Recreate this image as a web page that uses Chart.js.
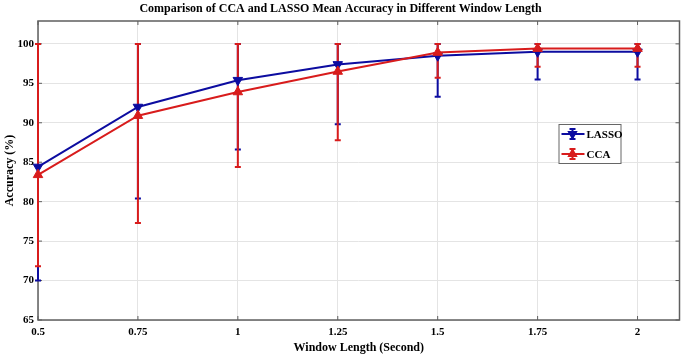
<!DOCTYPE html>
<html lang="en">
<head>
  <meta charset="UTF-8" />
  <title>CCA vs LASSO Accuracy</title>
  <script src="https://cdn.jsdelivr.net/npm/chart.js@4"></script>
  <style>
    html, body { margin: 0; padding: 0; background: #fff; }
    #wrap { width: 686px; height: 356px; }
  </style>
</head>
<body>
  <div id="wrap"><canvas id="accChart" width="686" height="356"></canvas></div>

  <script>
    const windowLengths = [0.5, 0.75, 1, 1.25, 1.5, 1.75, 2];
    const lassoMean  = [84.4, 92.0, 95.4, 97.4, 98.5, 99.0, 99.0];
    const lassoLow   = [70.0, 80.4, 86.6, 89.8, 93.3, 95.5, 95.5];
    const lassoHigh  = [100, 100, 100, 100, 100, 100, 100];
    const ccaMean    = [83.4, 90.9, 93.9, 96.5, 98.9, 99.4, 99.4];
    const ccaLow     = [71.8, 77.3, 84.4, 87.8, 95.7, 97.1, 97.1];
    const ccaHigh    = [100, 100, 100, 100, 100, 100, 100];
    const yTicks = [65, 70, 75, 80, 85, 90, 95, 100];

    const BLUE = '#0c0ca0';
    const RED = '#d81c1c';
    const FONT = "'Liberation Serif', 'Times New Roman', serif";

    const errorBars = [
      { color: BLUE, low: lassoLow, high: lassoHigh },
      { color: RED, low: ccaLow, high: ccaHigh }
    ];

    // frame + inward ticks, like a matlab box
    const framePlugin = {
      id: 'frame',
      beforeDatasetsDraw(chart) {
        const { ctx, chartArea: a, scales } = chart;
        ctx.save();
        ctx.strokeStyle = '#5f5f5f';
        ctx.lineWidth = 1.5;
        ctx.strokeRect(a.left, a.top, a.right - a.left, a.bottom - a.top);
        ctx.lineWidth = 1;
        ctx.beginPath();
        windowLengths.forEach(v => {
          const x = scales.x.getPixelForValue(v);
          ctx.moveTo(x, a.bottom); ctx.lineTo(x, a.bottom - 4);
          ctx.moveTo(x, a.top); ctx.lineTo(x, a.top + 4);
        });
        yTicks.forEach(v => {
          const y = scales.y.getPixelForValue(v);
          ctx.moveTo(a.left, y); ctx.lineTo(a.left + 4, y);
          ctx.moveTo(a.right, y); ctx.lineTo(a.right - 4, y);
        });
        ctx.stroke();

        // error bars
        errorBars.forEach(eb => {
          ctx.strokeStyle = eb.color;
          ctx.lineWidth = 2;
          windowLengths.forEach((v, i) => {
            const x = scales.x.getPixelForValue(v);
            const y1 = scales.y.getPixelForValue(eb.low[i]);
            const y2 = scales.y.getPixelForValue(eb.high[i]);
            ctx.beginPath();
            ctx.moveTo(x, y1); ctx.lineTo(x, y2);
            ctx.moveTo(x - 3, y1); ctx.lineTo(x + 3, y1);
            ctx.moveTo(x - 3, y2); ctx.lineTo(x + 3, y2);
            ctx.stroke();
          });
        });
        ctx.restore();
      }
    };

    // boxed legend inside the plot
    const legendBox = {
      id: 'legendBox',
      afterDraw(chart) {
        const { ctx, chartArea: a } = chart;
        const left = a.right - 121, top = a.top + 103, w = 62, h = 39;
        ctx.save();
        ctx.fillStyle = '#fff';
        ctx.fillRect(left, top, w, h);
        ctx.strokeStyle = '#666';
        ctx.lineWidth = 1;
        ctx.strokeRect(left + 0.5, top + 0.5, w, h);
        const items = [
          { label: 'LASSO', color: BLUE, rot: 180, y: top + 10 },
          { label: 'CCA', color: RED, rot: 0, y: top + 30 }
        ];
        items.forEach(it => {
          const cx = left + 14;
          ctx.strokeStyle = it.color;
          ctx.fillStyle = it.color;
          ctx.lineWidth = 2;
          ctx.beginPath();
          ctx.moveTo(left + 3, it.y); ctx.lineTo(left + 26, it.y);
          ctx.moveTo(cx, it.y - 5); ctx.lineTo(cx, it.y + 5);
          ctx.moveTo(cx - 3, it.y - 5); ctx.lineTo(cx + 3, it.y - 5);
          ctx.moveTo(cx - 3, it.y + 5); ctx.lineTo(cx + 3, it.y + 5);
          ctx.stroke();
          Chart.helpers.drawPoint(ctx, { pointStyle: 'triangle', radius: 4, rotation: it.rot, borderWidth: 1 }, cx, it.y);
          ctx.fillStyle = '#000';
          ctx.font = 'bold 11px ' + FONT;
          ctx.textBaseline = 'middle';
          ctx.fillText(it.label, left + 28, it.y + 1);
        });
        ctx.restore();
      }
    };

    const ctx = document.getElementById('accChart').getContext('2d');
    new Chart(ctx, {
      type: 'line',
      data: {
        datasets: [
          {
            label: 'LASSO',
            data: windowLengths.map((x, i) => ({ x, y: lassoMean[i] })),
            borderColor: BLUE,
            backgroundColor: BLUE,
            borderWidth: 2,
            pointStyle: 'triangle',
            rotation: 180,
            pointRadius: 5.5,
            pointBorderWidth: 1,
            order: 2,
            clip: false
          },
          {
            label: 'CCA',
            data: windowLengths.map((x, i) => ({ x, y: ccaMean[i] })),
            borderColor: RED,
            backgroundColor: RED,
            borderWidth: 2,
            pointStyle: 'triangle',
            pointRadius: 5.5,
            pointBorderWidth: 1,
            order: 1,
            clip: false
          }
        ]
      },
      options: {
        responsive: false,
        animation: false,
        layout: { padding: { left: 0, right: 5, top: 0, bottom: 0 } },
        plugins: {
          legend: { display: false },
          tooltip: { enabled: false },
          title: {
            display: true,
            text: 'Comparison of CCA and LASSO Mean Accuracy in Different Window Length',
            color: '#000',
            font: { family: FONT, size: 12, weight: 'bold', lineHeight: 1.2 },
            padding: { top: 2, bottom: 4.6 }
          }
        },
        scales: {
          x: {
            type: 'linear',
            min: 0.5,
            max: 2.105,
            afterBuildTicks: s => { s.ticks = windowLengths.map(v => ({ value: v })); },
            afterFit: s => { s.height = 36; },
            ticks: {
              autoSkip: false,
              maxRotation: 0,
              padding: 6,
              color: '#000',
              font: { family: FONT, size: 11, weight: 'bold' },
              callback: v => String(v)
            },
            grid: { color: '#e4e4e4', drawTicks: false },
            border: { display: false },
            title: {
              display: true,
              text: 'Window Length (Second)',
              color: '#000',
              font: { family: FONT, size: 12, weight: 'bold' },
              padding: { top: 0, bottom: 1 }
            }
          },
          y: {
            min: 65,
            max: 102.9,
            afterBuildTicks: s => { s.ticks = yTicks.map(v => ({ value: v })); },
            afterFit: s => { s.width = 38; },
            ticks: {
              padding: 4,
              color: '#000',
              font: { family: FONT, size: 11, weight: 'bold' }
            },
            grid: { color: '#e4e4e4', drawTicks: false },
            border: { display: false },
            title: {
              display: true,
              text: 'Accuracy (%)',
              color: '#000',
              font: { family: FONT, size: 12, weight: 'bold' },
              padding: { top: 3, bottom: 0 }
            }
          }
        }
      },
      plugins: [framePlugin, legendBox]
    });
  </script>
</body>
</html>
